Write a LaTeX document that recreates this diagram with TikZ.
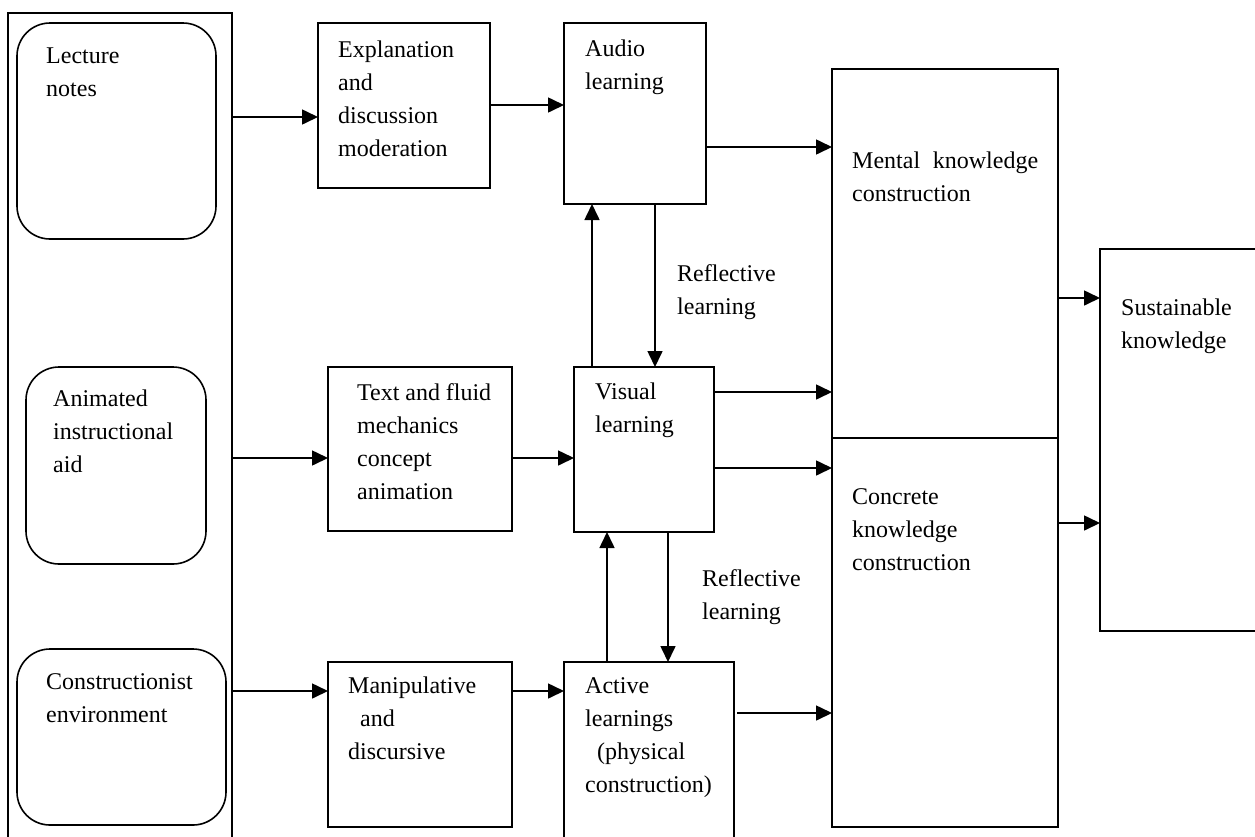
\documentclass[tikz,border=0pt]{standalone}
\usepackage{fontspec}
\setmainfont{Liberation Serif}
\usetikzlibrary{arrows.meta,calc}
\newcommand\tlines[1]{\begin{tabular}[t]{@{}l@{}}#1\end{tabular}}
\begin{document}
\begin{tikzpicture}[x=1pt,y=-1pt,
  box/.style={draw, line width=1.6pt, inner sep=0pt, outer sep=0pt},
  rbox/.style={box, rounded corners=33pt},
  txt/.style={anchor=base west, inner sep=0pt, font=\fontsize{24}{33}\selectfont},
  arr/.style={line width=1.6pt, -{Triangle[length=16pt,width=15pt]}}]
\useasboundingbox (0,0) rectangle (1255,836);
\clip (0,0) rectangle (1255,836);
\fill[white] (0,0) rectangle (1255,836);
% left container
\node[box, minimum width=224pt, minimum height=847pt] (src) at (120,436.5) {};
\node[rbox, minimum width=199pt, minimum height=216pt] (lecture) at (116.5,131) {};
\node[rbox, minimum width=180pt, minimum height=197pt] (animated) at (116,465.5) {};
\node[rbox, minimum width=209pt, minimum height=176pt] (construct) at (121.5,737) {};
% middle boxes
\node[box, minimum width=172pt, minimum height=165pt] (expl) at (404,105.5) {};
\node[box, minimum width=142pt, minimum height=181pt] (audio) at (635,113.5) {};
\node[box, minimum width=184pt, minimum height=164pt] (textbox) at (420,449) {};
\node[box, minimum width=140pt, minimum height=165pt] (visual) at (644,449.5) {};
\node[box, minimum width=184pt, minimum height=165pt] (manip) at (420,744.5) {};
\node[box, minimum width=170pt, minimum height=198pt] (active) at (649,761) {};
% right boxes
\node[box, minimum width=226pt, minimum height=369pt] (mental) at (945,253.5) {};
\node[box, minimum width=226pt, minimum height=389pt] (concrete) at (945,632.5) {};
\node[box, minimum width=170pt, minimum height=382pt] (sustain) at (1185,440) {};
% texts
\node[txt] (tlecture) at (46,63) {\tlines{Lecture\\notes}};
\node[txt] (tanimated) at (53,406) {\tlines{Animated\\instructional\\aid}};
\node[txt] (tconstruct) at (46,689) {\tlines{Constructionist\\environment}};
\node[txt] (texpl) at (338,57) {\tlines{Explanation\\and\\discussion\\moderation}};
\node[txt] (taudio) at (585,56) {\tlines{Audio\\learning}};
\node[txt] (ttextbox) at (357,400) {\tlines{\makebox[134pt][s]{Text and fluid}\\mechanics\\concept\\animation}};
\node[txt] (tvisual) at (595,399) {\tlines{Visual\\learning}};
\node[txt] (tmanip) at (348,693) {\tlines{Manipulative\\\hspace*{12pt}and\\discursive}};
\node[txt] (tactive) at (585,693) {\tlines{Active\\learnings\\\hspace*{12pt}(physical\\construction)}};
\node[txt] (tmental) at (852,168) {\tlines{\makebox[186pt][s]{Mental knowledge}\\construction}};
\node[txt] (tconcrete) at (852,504) {\tlines{Concrete\\knowledge\\construction}};
\node[txt] (tsustain) at (1121,315) {\tlines{Sustainable\\knowledge}};
\node[txt] (trefl1) at (677,281) {\tlines{Reflective\\learning}};
\node[txt] (trefl2) at (702,586) {\tlines{Reflective\\learning}};
% connectors
\draw[arr] (src.east |- 0,117) -- (expl.west |- 0,117);
\draw[arr] (expl.east |- 0,105) -- (audio.west |- 0,105);
\draw[arr] (audio.east |- 0,147) -- (mental.west |- 0,147);
\draw[arr] (visual.north -| 592,0) -- (audio.south -| 592,0);
\draw[arr] (audio.south -| 655,0) -- (visual.north -| 655,0);
\draw[arr] (src.east |- 0,458) -- (textbox.west |- 0,458);
\draw[arr] (textbox.east |- 0,458) -- (visual.west |- 0,458);
\draw[arr] (visual.east |- 0,392) -- (mental.west |- 0,392);
\draw[arr] (visual.east |- 0,468) -- (concrete.west |- 0,468);
\draw[arr] (active.north -| 607,0) -- (visual.south -| 607,0);
\draw[arr] (visual.south -| 668,0) -- (active.north -| 668,0);
\draw[arr] (src.east |- 0,691) -- (manip.west |- 0,691);
\draw[arr] (manip.east |- 0,691) -- (active.west |- 0,691);
\draw[arr] ($(active.east |- 0,713)+(3,0)$) -- (concrete.west |- 0,713);
\draw[arr] (mental.east |- 0,298) -- (sustain.west |- 0,298);
\draw[arr] (concrete.east |- 0,523) -- (sustain.west |- 0,523);
\end{tikzpicture}
\end{document}
